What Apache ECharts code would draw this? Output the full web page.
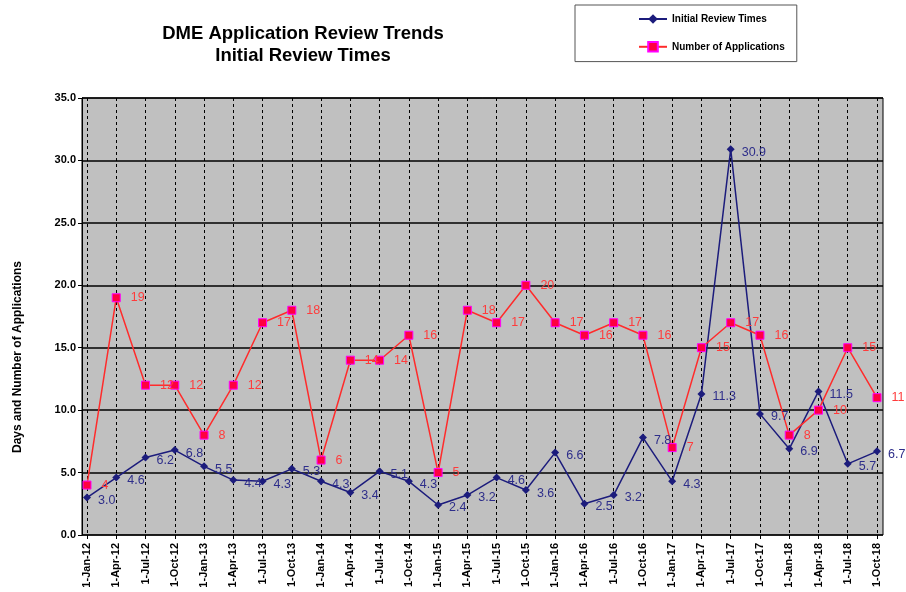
<!DOCTYPE html>
<html><head><meta charset="utf-8">
<script src="https://cdn.jsdelivr.net/npm/echarts@6/dist/echarts.min.js"></script>
<style>html,body{margin:0;padding:0;background:#fff}#c{width:906px;height:592px}</style>
</head><body><div id="c"></div>
<script>
const categories = ['1-Jan-12','1-Apr-12','1-Jul-12','1-Oct-12','1-Jan-13','1-Apr-13','1-Jul-13','1-Oct-13','1-Jan-14','1-Apr-14','1-Jul-14','1-Oct-14','1-Jan-15','1-Apr-15','1-Jul-15','1-Oct-15','1-Jan-16','1-Apr-16','1-Jul-16','1-Oct-16','1-Jan-17','1-Apr-17','1-Jul-17','1-Oct-17','1-Jan-18','1-Apr-18','1-Jul-18','1-Oct-18'];
const reviewTimes = [3.0,4.6,6.2,6.8,5.5,4.4,4.3,5.3,4.3,3.4,5.1,4.3,2.4,3.2,4.6,3.6,6.6,2.5,3.2,7.8,4.3,11.3,30.9,9.7,6.9,11.5,5.7,6.7];
const applications = [4,19,12,12,8,12,17,18,6,14,14,16,5,18,17,20,17,16,17,16,7,15,17,16,8,10,15,11];
const yMin = 0, yMax = 35, yStep = 5;

const chart = echarts.init(document.getElementById('c'));
const font = 'Arial, "Liberation Sans", sans-serif';
chart.setOption({
  backgroundColor: '#fff',
  animation: false,
  title: {
    text: 'DME Application Review Trends\nInitial Review Times',
    left: 298, top: 18, textAlign: 'center',
    textStyle: {fontFamily: font, fontSize: 18.5, fontWeight: 'bold', color: '#000', lineHeight: 22}
  },
  legend: {
    left: 575, top: 5, orient: 'vertical',
    borderColor: '#555', borderWidth: 1,
    padding: [9, 12, 9, 63], itemGap: 17, itemWidth: 28, itemHeight: 12,
    textStyle: {fontFamily: font, fontSize: 10, fontWeight: 'bold', color: '#000'},
    data: ['Initial Review Times', 'Number of Applications']
  },
  graphic: [{
    type: 'text', x: 18, y: 357, rotation: Math.PI / 2,
    style: {text: 'Days and Number of Applications', fontFamily: font, fontSize: 12, fontWeight: 'bold',
      fill: '#000', textAlign: 'center', textVerticalAlign: 'middle'}
  }],
  grid: [
    {left: 82, right: 23, top: 98, bottom: 57, show: true, backgroundColor: '#c0c0c0', borderColor: '#000', borderWidth: 1},
    {left: 87, right: 29, top: 98, bottom: 57}
  ],
  xAxis: [
    {gridIndex: 0, type: 'value', min: 0, max: 1, show: false},
    {gridIndex: 1, type: 'category', data: categories, boundaryGap: false,
      axisLine: {show: false},
      axisTick: {show: true, length: 4, lineStyle: {color: '#000'}},
      axisLabel: {interval: 0, rotate: 90, margin: 8, fontFamily: font, fontSize: 11, fontWeight: 'bold', color: '#000'},
      splitLine: {show: true, interval: 0, lineStyle: {color: '#000', type: [3, 3], width: 1}}}
  ],
  yAxis: [
    {gridIndex: 0, type: 'value', min: yMin, max: yMax, interval: yStep,
      axisLine: {show: true, lineStyle: {color: '#000', width: 1}},
      axisTick: {show: true, length: 4, lineStyle: {color: '#000'}},
      axisLabel: {formatter: v => v.toFixed(1), fontFamily: font, fontSize: 11, fontWeight: 'bold', color: '#000', margin: 6},
      splitLine: {show: true, lineStyle: {color: '#000', width: 1.5}}},
    {gridIndex: 1, type: 'value', min: yMin, max: yMax, interval: yStep, show: false, splitLine: {show: false}}
  ],
  series: [
    {name: 'Initial Review Times', type: 'line', xAxisIndex: 1, yAxisIndex: 1, data: reviewTimes,
      symbol: 'diamond', symbolSize: 8,
      lineStyle: {color: '#1c1c7c', width: 1.5}, itemStyle: {color: '#1c1c7c'},
      label: {show: true, position: 'right', distance: 7, offset: [0, 3], formatter: p => p.value.toFixed(1),
        fontFamily: font, fontSize: 12.5, color: '#2e2e8a'}},
    {name: 'Number of Applications', type: 'line', xAxisIndex: 1, yAxisIndex: 1, data: applications,
      symbol: 'rect', symbolSize: 8,
      lineStyle: {color: '#ff2b2b', width: 1.5}, itemStyle: {color: '#ff0040', borderColor: '#ff00ff', borderWidth: 1},
      label: {show: true, position: 'right', distance: 10,
        fontFamily: font, fontSize: 12.5, color: '#ff3b3b'}}
  ]
});
</script></body></html>
